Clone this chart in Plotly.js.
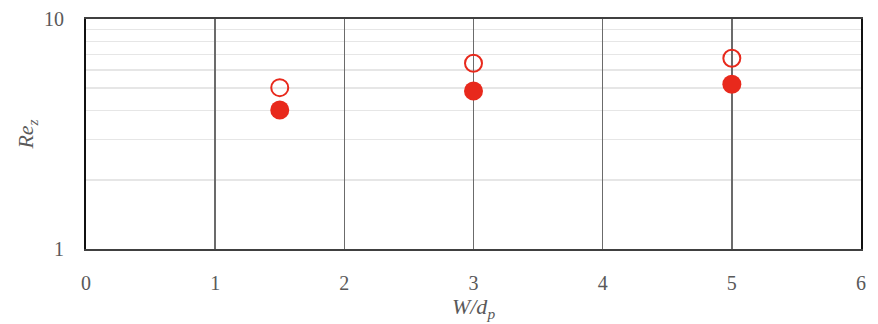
<!DOCTYPE html>
<html>
<head>
<meta charset="utf-8">
<script src="https://cdn.plot.ly/plotly-3.0.1.min.js"></script>
<style>html,body{margin:0;padding:0;background:#fff;}#chart{width:878px;height:324px;}</style>
</head>
<body>
<div id="chart"></div>
<script>
var widthRatio = [1.5, 3, 5];
var reOpen = [5.03, 6.42, 6.75];
var reFilled = [4.02, 4.86, 5.2];
var xTickVals = [0, 1, 2, 3, 4, 5, 6];
var yTickVals = [1, 10];
var yTickText = ['1', '10'];
var yMinorVals = [2, 3, 4, 5, 6, 7, 8, 9];

var red = '#e8291c';
var traces = [
  {
    x: widthRatio, y: reOpen, type: 'scatter', mode: 'markers', name: 'open',
    marker: {symbol: 'circle-open', size: 17, color: red, line: {width: 2, color: red}}
  },
  {
    x: widthRatio, y: reFilled, type: 'scatter', mode: 'markers', name: 'filled',
    marker: {symbol: 'circle', size: 19, color: red}
  }
];
var tickFont = {family: 'Liberation Serif, serif', size: 20, color: '#595959'};
var titleFont = {family: 'Liberation Serif, serif', size: 22, color: '#595959'};
var layout = {
  width: 878, height: 324,
  margin: {l: 86, r: 17, t: 19, b: 75},
  paper_bgcolor: '#fff', plot_bgcolor: '#fff',
  showlegend: false,
  xaxis: {
    range: [0, 6], tickmode: 'array', tickvals: xTickVals,
    showgrid: true, gridcolor: '#6b6b6b', gridwidth: 1.5,
    zeroline: false, showline: true, linecolor: '#404040', linewidth: 2, mirror: true,
    ticks: '', ticklabelstandoff: 15, tickfont: tickFont,
    title: {text: '<i>W/d<sub>p</sub></i>', font: titleFont, standoff: 6}
  },
  yaxis: {
    type: 'log', range: [0, 1], tickmode: 'array', tickvals: yTickVals, ticktext: yTickText,
    showgrid: false, zeroline: false, showline: true, linecolor: '#111', linewidth: 2, mirror: true,
    ticks: '', ticklabelstandoff: 16, tickfont: tickFont,
    minor: {tickmode: 'array', tickvals: yMinorVals, showgrid: true, gridcolor: '#e6e6e6', gridwidth: 1.5, ticks: ''},
    title: {text: '<i>Re<sub>z</sub></i>', font: titleFont, standoff: 4}
  }
};
Plotly.newPlot('chart', traces, layout, {displayModeBar: false, staticPlot: true});
</script>
</body>
</html>
